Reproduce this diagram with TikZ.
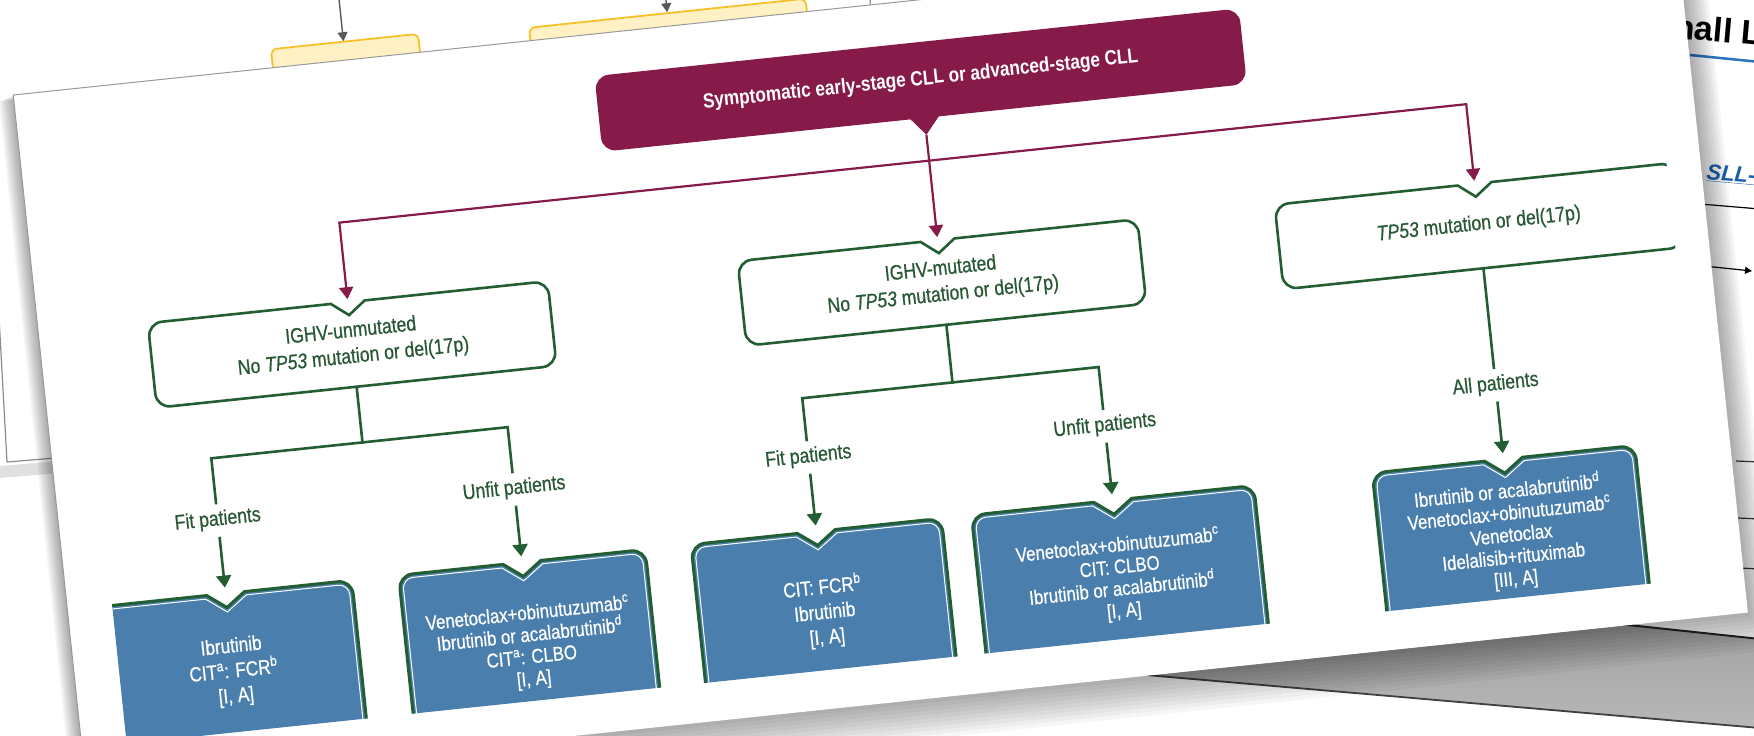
\documentclass[tikz,border=0pt]{standalone}
\usepackage{fontspec}
\setmainfont{Liberation Sans}[FakeStretch=0.84]
\newfontfamily\medfont{Liberation Sans}[FakeStretch=0.84, FakeBold=0.6]
\newfontfamily\hallfont{Liberation Sans}
\usetikzlibrary{arrows.meta}
\definecolor{maroonc}{RGB}{134,27,74}
\definecolor{dgreen}{RGB}{34,94,50}
\definecolor{gtext}{RGB}{40,88,52}
\definecolor{bluebox}{RGB}{74,126,172}
\definecolor{yfill}{RGB}{255,241,196}
\definecolor{yline}{RGB}{246,192,40}
\definecolor{linkblue}{RGB}{30,95,175}
\definecolor{ruleblue}{RGB}{45,115,190}
\tikzset{
  flowframe/.style={rotate around={6:(900,400)}, transform shape},
  gline/.style={draw=dgreen, line width=2.6pt, line cap=rect, line join=miter},
  garr/.style={draw=dgreen, line width=2.6pt, -{Triangle[width=15pt,length=12pt]}},
  mline/.style={draw=maroonc, line width=2.2pt, line cap=rect},
  marr/.style={draw=maroonc, line width=2.2pt, -{Triangle[width=14pt,length=12pt]}},
  wtxt/.style={text=gtext, align=center, font=\medfont\fontsize{21}{26}\selectfont, inner sep=0pt},
  lbl/.style={text=gtext, font=\medfont\fontsize{21}{24}\selectfont, inner sep=7pt},
  btxt/.style={text=white, align=center, inner sep=0pt},
  yboxst/.style={draw=yline, fill=yfill, line width=1.8pt, rounded corners=6pt},
  grayarr/.style={draw=black!65, line width=1.4pt, -{Triangle[width=10pt,length=9pt]}},
}
% white notched box: #1 = centre u
\newcommand\wbx[1]{%
  \draw[dgreen, line width=2.6pt, line join=miter, fill=white]
    (#1-201,288) -- (#1-201,259) arc[start angle=180,end angle=90,radius=14pt]
    -- (#1-17,245) -- (#1,258) -- (#1+17,245) -- (#1+187,245)
    arc[start angle=90,end angle=0,radius=14pt] -- (#1+201,316)
    arc[start angle=0,end angle=-90,radius=14pt] -- (#1-187,330)
    arc[start angle=270,end angle=180,radius=14pt] -- cycle;}
% blue notched box: #1 = centre u, #2 = half width
\newcommand\bbx[2]{%
  \fill[bluebox] (#1-#2,661) -- (#1-#2,536) arc[start angle=180,end angle=90,radius=14pt]
    -- (#1-19,522) -- (#1,536) -- (#1+19,522) -- (#1+#2-14,522)
    arc[start angle=90,end angle=0,radius=14pt] -- (#1+#2,661) -- cycle;
  \draw[dgreen, line width=3pt, line join=miter] (#1-#2,661) -- (#1-#2,536)
    arc[start angle=180,end angle=90,radius=14pt]
    -- (#1-19,522) -- (#1,536) -- (#1+19,522) -- (#1+#2-14,522)
    arc[start angle=90,end angle=0,radius=14pt] -- (#1+#2,661);
  \draw[white, line width=1pt] (#1-#2+3.5,661) -- (#1-#2+3.5,536)
    arc[start angle=180,end angle=90,radius=10.5pt]
    -- (#1-20.5,525.5) -- (#1,540.5) -- (#1+20.5,525.5) -- (#1+#2-14,525.5)
    arc[start angle=90,end angle=0,radius=10.5pt] -- (#1+#2-3.5,661);}
\begin{document}
\begin{tikzpicture}[x=1pt,y=-1pt]
\useasboundingbox (0,0) rectangle (1754,736);
\fill[white] (0,0) rectangle (1754,736);
% grey area below the main sheet
\begin{scope}[flowframe]
  \shade[top color=black!40, bottom color=black!10] (-300,700) rectangle (2000,820);
\end{scope}
% lower sheet
\fill[white] (500,620) -- (1760,728) -- (1760,745) -- (500,745) -- cycle;
\draw[black!75, line width=1.8pt] (1100,671) -- (1760,728);
% right sheet
\fill[white] (1600,-10) -- (1760,-10) -- (1760,639) -- (1600,622) -- cycle;
\draw[black!85, line width=2pt] (1600,622) -- (1760,639);
\node[anchor=base west, rotate=-5, inner sep=0pt, font=\hallfont\bfseries\fontsize{34}{40}\selectfont] (hallL) at (1673,38) {hall L};
\draw[ruleblue, line width=2.5pt] (1690,55) -- (1760,62);
\node[anchor=base west, rotate=-5, inner sep=0pt, text=linkblue, font=\hallfont\bfseries\itshape\fontsize{22}{26}\selectfont] (sll) at (1706,179) {\underline{SLL-}};
\draw[black, line width=1.2pt] (1700,204) -- (1760,209);
\draw[black, line width=1.2pt, -{Triangle[width=7pt,length=7pt]}] (1704,266) -- (1752,271);
\draw[black!80, line width=1.2pt] (1736,461) -- (1760,462);
\draw[black!80, line width=1.2pt] (1738,518) -- (1760,519);
\draw[black!80, line width=1.2pt] (1740,568) -- (1760,569);
% left sheet
\fill[black, opacity=0.12] (0,466) -- (900,392) -- (900,404) -- (0,478) -- cycle;
\draw[black!45, line width=1.2pt, fill=white] (-19,-10) -- (870,-10) -- (880,390) -- (7,462) -- cycle;
\begin{scope}[flowframe]
  \draw[yboxst] (311,-14.5) rectangle (459,40);
  \draw[yboxst] (570,-9) rectangle (848,40);
  \coordinate (ga1) at (384,-70); \coordinate (ga1e) at (384,-15);
  \coordinate (ga2) at (709,-70); \coordinate (ga2e) at (709,-10);
  \draw[grayarr] (ga1) -- (ga1e);
  \draw[grayarr] (ga2) -- (ga2e);
\end{scope}
% main sheet
\begin{scope}[flowframe]
  \foreach \k in {1,...,10}
    \fill[black, opacity=0.035] ({50-1.5*\k},{4+0.5*\k}) rectangle ({1721+2.5*\k},{700+4*\k});
  \fill[white] (50,4) rectangle (1721,700);
  \draw[black!40, line width=1pt] (50,700) -- (50,4) -- (1721,4);
  \begin{scope}
    \clip (95,8) rectangle (1687,661);
    % top box
    \node[fill=maroonc, rounded corners=14pt, minimum width=648pt, minimum height=76pt, inner sep=0pt,
          text=white, font=\bfseries\fontsize{20.5}{24}\selectfont] (title) at (954,84)
          {Symptomatic early-stage CLL or advanced-stage CLL};
    \fill[maroonc] (939,121) -- (954,139) -- (969,121) -- cycle;
    % white boxes
    \wbx{361}\wbx{954}\wbx{1494}
    \node[wtxt, minimum width=402pt, minimum height=85pt] (unm) at (361,287.5)
      {IGHV-unmutated\\No \textit{TP53} mutation or del(17p)};
    \node[wtxt, minimum width=402pt, minimum height=85pt] (mut) at (954,287.5)
      {IGHV-mutated\\No \textit{TP53} mutation or del(17p)};
    \node[wtxt, minimum width=402pt, minimum height=85pt] (tp) at (1494,286)
      {\textit{TP53} mutation or del(17p)};
    % maroon connectors
    \coordinate (mtip) at (954,139);
    \coordinate (mbL) at (361,165);
    \coordinate (mbR) at (1494,165);
    \coordinate (unmIn) at (361,242);
    \coordinate (mutIn) at (954,242);
    \coordinate (tpIn) at (1494,242);
    \draw[mline] (mbL) -- (mbR);
    \draw[marr] (mbL) -- (unmIn);
    \draw[marr] (mbR) -- (tpIn);
    \draw[marr] (mtip) -- (mutIn);
    % labels
    \node[lbl] (fitA) at (209,448) {Fit patients};
    \node[lbl] (unfitA) at (507,448) {Unfit patients};
    \node[lbl] (fitB) at (803,447) {Fit patients};
    \node[lbl] (unfitB) at (1101,447) {Unfit patients};
    \node[lbl] (allC) at (1494,447) {All patients};
    % blue boxes
    \bbx{209}{127}\bbx{507}{124}\bbx{803}{126}\bbx{1101}{142}\bbx{1494}{132}
    \node[btxt, font=\medfont\fontsize{20.5}{25}\selectfont] (b1) at (209,601)
      {Ibrutinib\\CIT\textsuperscript{a}: FCR\textsuperscript{b}\\{[I, A]}};
    \node[btxt, font=\medfont\fontsize{20}{22}\selectfont] (b2) at (507,607)
      {Venetoclax+obinutuzumab\textsuperscript{c}\\Ibrutinib or acalabrutinib\textsuperscript{d}\\CIT\textsuperscript{a}: CLBO\\{[I, A]}};
    \node[btxt, font=\medfont\fontsize{20.5}{25}\selectfont] (b3) at (803,603)
      {CIT: FCR\textsuperscript{b}\\Ibrutinib\\{[I, A]}};
    \node[btxt, font=\medfont\fontsize{20}{22}\selectfont] (b4) at (1101,601)
      {Venetoclax+obinutuzumab\textsuperscript{c}\\CIT: CLBO\\Ibrutinib or acalabrutinib\textsuperscript{d}\\{[I, A]}};
    \node[btxt, font=\medfont\fontsize{20}{22}\selectfont] (b5) at (1494,598)
      {Ibrutinib or acalabrutinib\textsuperscript{d}\\Venetoclax+obinutuzumab\textsuperscript{c}\\Venetoclax\\Idelalisib+rituximab\\{[III, A]}};
    % green connectors
    \coordinate (jA) at (361,386); \coordinate (fAj) at (209,386); \coordinate (uAj) at (507,386);
    \coordinate (jB) at (954,388); \coordinate (fBj) at (803,388); \coordinate (uBj) at (1101,388);
    \coordinate (b1In) at (209,516); \coordinate (b2In) at (507,516);
    \coordinate (b3In) at (803,516); \coordinate (b4In) at (1101,516);
    \coordinate (b5In) at (1494,516);
    \draw[gline] (unm.south) -- (jA);
    \draw[gline] (fitA.north) -- (fAj) -- (uAj) -- (unfitA.north);
    \draw[gline] (mut.south) -- (jB);
    \draw[gline] (fitB.north) -- (fBj) -- (uBj) -- (unfitB.north);
    \draw[gline] (tp.south |- 0,330) -- (allC.north);
    \draw[garr] (fitA.south) -- (b1In);
    \draw[garr] (unfitA.south) -- (b2In);
    \draw[garr] (fitB.south) -- (b3In);
    \draw[garr] (unfitB.south) -- (b4In);
    \draw[garr] (allC.south) -- (b5In);
  \end{scope}
\end{scope}
\end{tikzpicture}
\end{document}
